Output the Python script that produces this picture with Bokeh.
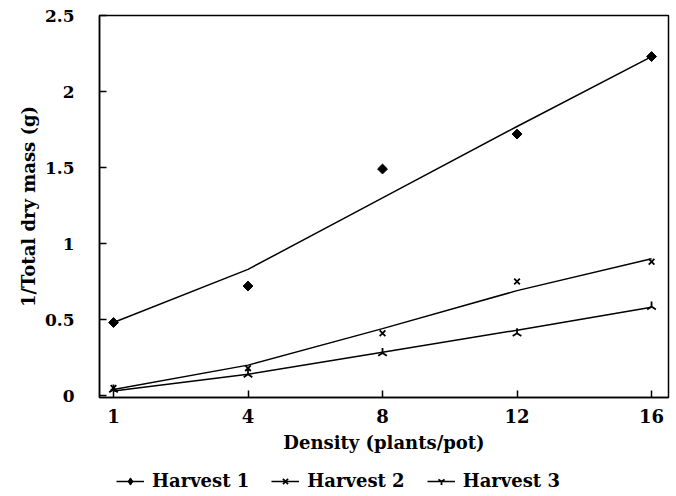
import math

from bokeh.embed import file_html
from bokeh.layouts import column
from bokeh.models import ColumnDataSource, FixedTicker, Legend, LegendItem, Range1d
from bokeh.plotting import figure
from bokeh.resources import INLINE

# Planting densities (plants/pot), shown as equally spaced levels
density_labels = ["1", "4", "8", "12", "16"]

# Observed 1/total dry mass (g) per harvest
harvest1 = [0.48, 0.72, 1.49, 1.72, 2.23]
harvest2 = [0.05, 0.18, 0.41, 0.75, 0.88]
harvest3 = [0.04, 0.14, 0.28, 0.41, 0.585]

# Fitted reciprocal-yield lines
fit1 = [0.48, 0.83, 1.30, 1.77, 2.23]
fit2 = [0.04, 0.20, 0.44, 0.69, 0.90]
fit3 = [0.03, 0.14, 0.285, 0.43, 0.58]

series_names = ["Harvest 1", "Harvest 2", "Harvest 3"]
y_ticks = [0, 0.5, 1, 1.5, 2, 2.5]
y_tick_labels = ["0", "0.5", "1", "1.5", "2", "2.5"]

FONT = "DejaVu Serif"
pos = list(range(len(density_labels)))

source = ColumnDataSource(dict(
    x=pos, h1=harvest1, h2=harvest2, h3=harvest3, f1=fit1, f2=fit2, f3=fit3,
))

p = figure(
    width=676, height=466,
    output_backend="svg", toolbar_location=None,
    x_range=Range1d(-0.104, 4.126), y_range=Range1d(-0.013, 2.5),
    min_border_left=99, min_border_right=8, min_border_top=15, min_border_bottom=69,
)
p.background_fill_color = "white"
p.border_fill_color = "white"
p.outline_line_color = "black"
p.outline_line_width = 1.5
p.xgrid.visible = False
p.ygrid.visible = False

# Axes: inward ticks, bold serif text
p.xaxis.ticker = FixedTicker(ticks=pos)
p.xaxis.major_label_overrides = {i: lab for i, lab in zip(pos, density_labels)}
p.yaxis.ticker = FixedTicker(ticks=y_ticks)
p.yaxis.major_label_overrides = {t: lab for t, lab in zip(y_ticks, y_tick_labels)}
p.xaxis.axis_label = "Density (plants/pot)"
p.yaxis.axis_label = "1/Total dry mass (g)"
for ax in (p.xaxis[0], p.yaxis[0]):
    ax.axis_line_color = "black"
    ax.axis_line_width = 1.5
    ax.major_tick_in = 7
    ax.major_tick_out = 0
    ax.major_tick_line_width = 1.5
    ax.minor_tick_line_color = None
    ax.major_label_text_font = FONT
    ax.major_label_text_font_style = "bold"
    ax.major_label_text_font_size = "18px"
    ax.major_label_text_color = "black"
    ax.axis_label_text_font = FONT
    ax.axis_label_text_font_style = "bold"
    ax.axis_label_text_font_size = "18px"
    ax.axis_label_text_color = "black"
p.yaxis.major_label_text_font_size = "17px"
p.xaxis.major_label_standoff = 11
p.xaxis.axis_label_standoff = 6
p.yaxis.major_label_standoff = 25
p.yaxis.axis_label_standoff = 3

LINE = dict(line_color="black", line_width=1.5)
MARK1 = dict(marker="square", angle=math.pi / 4, size=7, fill_color="black", line_color="black")
MARK1_KEY = dict(marker="diamond", size=10, fill_color="black", line_color="black")
MARK2 = dict(marker="x", size=8, line_color="black", line_width=1.8)
MARK3 = dict(marker="y", angle=math.pi, size=10, line_color="black", line_width=1.8)

# Fitted lines
p.line("x", "f1", source=source, **LINE)
p.line("x", "f2", source=source, **LINE)
p.line("x", "f3", source=source, **LINE)

# Observed points
p.scatter("x", "h1", source=source, **MARK1)
p.scatter("x", "h2", source=source, **MARK2)
p.scatter("x", "h3", source=source, **MARK3)

# Key strip underneath; its ranges keep the series out of view so only
# the legend glyphs show
key = figure(
    width=676, height=30, output_backend="svg", toolbar_location=None,
    x_range=Range1d(100, 101), y_range=Range1d(100, 101),
    min_border=0,
)
key.axis.visible = False
key.grid.visible = False
key.outline_line_color = None
key.background_fill_color = "white"
key.border_fill_color = "white"

items = []
for name, yl, ym, mark in zip(series_names, ("f1", "f2", "f3"), ("h1", "h2", "h3"),
                              (MARK1_KEY, MARK2, MARK3)):
    lr = key.line("x", yl, source=source, **LINE)
    mr = key.scatter("x", ym, source=source, **mark)
    items.append(LegendItem(label=name, renderers=[lr, mr]))

legend = Legend(
    items=items,
    orientation="horizontal",
    location=(17, 5),
    label_text_font=FONT,
    label_text_font_style="bold",
    label_text_font_size="18px",
    label_text_color="black",
    glyph_width=28,
    glyph_height=18,
    label_standoff=8,
    spacing=22,
    padding=2,
    margin=0,
    border_line_color=None,
    background_fill_alpha=0,
)
key.add_layout(legend, "center")

open("out.html", "w").write(file_html(column(p, key), INLINE))
